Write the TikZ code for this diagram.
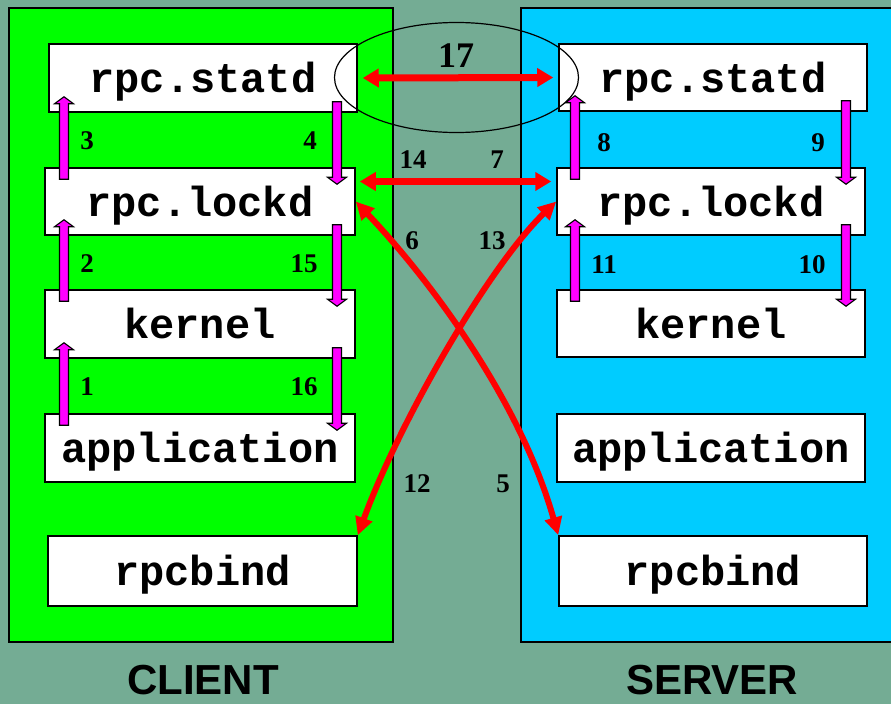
\documentclass[tikz,border=0pt]{standalone}
\usepackage{fontspec}
\usepackage{graphicx}
\usetikzlibrary{arrows.meta,calc}
\newfontfamily\boxfont{Liberation Mono}
\newfontfamily\numfont{Liberation Serif}
\newfontfamily\labfont{Liberation Sans}
\definecolor{bgc}{HTML}{74AC94}
\definecolor{cligreen}{HTML}{00FF00}
\definecolor{sercyan}{HTML}{00CCFF}
\definecolor{magc}{HTML}{FF00FF}
\definecolor{redc}{HTML}{FF0000}
\tikzset{
  panel/.style={draw=black,line width=1.5pt},
  procbox/.style={draw=black,fill=white,line width=1.5pt,inner sep=0pt,
    minimum width=309pt,minimum height=68pt,text depth=1pt,
    font=\boxfont\bfseries\fontsize{42}{42}\selectfont},
  num/.style={font=\numfont\bfseries\fontsize{27}{27}\selectfont,inner sep=0pt},
  bignum/.style={font=\numfont\bfseries\fontsize{36}{36}\selectfont,inner sep=0pt},
  sidelab/.style={font=\labfont\bfseries\fontsize{42}{42}\selectfont,inner sep=0pt,anchor=base},
  magarr/.style={draw=black,fill=magc,line width=1.1pt,line join=miter},
  redarr/.style={draw=redc,line width=7pt,{Triangle[length=16pt,width=18pt]}-{Triangle[length=16pt,width=18pt]}},
  redcurve/.style={draw=redc,line width=6pt,{Triangle[length=18pt,width=17pt]}-{Triangle[length=18pt,width=17pt]}},
  ring/.style={draw=black,line width=1.2pt}
}
\newcommand\magup[3]{%
  \draw[magarr] let \p1=(#2.north), \p2=(#3.south) in
   (#1pt-4.5pt,\y1-12pt) -- (#1pt-4.5pt,\y2+9pt) -- (#1pt-9.5pt,\y2+9pt) --
   (#1pt,\y2+16pt) -- (#1pt+9.5pt,\y2+9pt) -- (#1pt+4.5pt,\y2+9pt) --
   (#1pt+4.5pt,\y1-12pt) -- cycle;}
\newcommand\magdown[3]{%
  \draw[magarr] let \p1=(#2.south), \p2=(#3.north) in
   (#1pt-4.5pt,\y1+11pt) -- (#1pt-4.5pt,\y2-10pt) -- (#1pt-9.5pt,\y2-10pt) --
   (#1pt,\y2-17pt) -- (#1pt+9.5pt,\y2-10pt) -- (#1pt+4.5pt,\y2-10pt) --
   (#1pt+4.5pt,\y1+11pt) -- cycle;}
\begin{document}
\begin{tikzpicture}[x=1pt,y=-1pt]
\useasboundingbox (0,0) rectangle (891,704);
\fill[bgc] (0,0) rectangle (891,704);
% panels
\draw[panel,fill=cligreen] (9,8) rectangle (393,642);
\draw[panel,fill=sercyan] (521,8) rectangle (897,642);
% client boxes
\node[procbox,minimum width=308pt] (cS) at (203,78) {rpc.statd};
\node[procbox,minimum width=310pt,minimum height=67pt] (cL) at (200,201.5) {rpc.lockd};
\node[procbox,minimum width=310pt] (cK) at (200,324) {kernel};
\node[procbox,minimum width=310pt] (cA) at (200,448) {application};
\node[procbox,minimum height=70pt] (cB) at (202.5,571) {rpcbind};
% server boxes
\node[procbox,minimum width=308pt,minimum height=67pt] (sS) at (713,77.5) {rpc.statd};
\node[procbox,minimum width=308pt,minimum height=67pt] (sL) at (711,201.5) {rpc.lockd};
\node[procbox,minimum width=308pt,minimum height=67pt] (sK) at (711,323.5) {kernel};
\node[procbox,minimum width=308pt] (sA) at (711,448) {application};
\node[procbox,minimum width=308pt,minimum height=70pt] (sB) at (713,571) {rpcbind};
% magenta arrows client
\magup{64}{cL}{cS}
\magdown{337}{cS}{cL}
\magup{64}{cK}{cL}
\magdown{337}{cL}{cK}
\magup{64}{cA}{cK}
\magdown{337}{cK}{cA}
% magenta arrows server
\magup{575}{sL}{sS}
\magdown{846}{sS}{sL}
\magup{575}{sK}{sL}
\magdown{846}{sL}{sK}
% red arrows
\draw[redarr,shorten <=5pt,shorten >=5pt] (cS.east) -- (sS.west);
\draw[redarr,shorten <=4pt,shorten >=5pt] ([yshift=20pt]cL.east) -- ([yshift=20pt]sL.west);
\draw[redcurve] (cL.east) .. controls (430,280) and (520,400) .. (sB.north west);
\draw[redcurve] (sL.west) .. controls (490,265) and (400,420) .. (cB.north east);
% ellipse
\draw[ring] (456.5,77.5) ellipse [x radius=122, y radius=55];
% numbers
\node[bignum] (n17) at (456,56) {17};
\node[num] (n3) at (87,141) {3};
\node[num] (n4) at (310,141) {4};
\node[num] (n2) at (87,264) {2};
\node[num] (n15) at (304,264) {15};
\node[num] (n1) at (87,387) {1};
\node[num] (n16) at (304,387) {16};
\node[num] (n14) at (413,160) {14};
\node[num] (n7) at (497,160) {7};
\node[num] (n6) at (412,241) {6};
\node[num] (n13) at (492,241) {13};
\node[num] (n12) at (417,484) {12};
\node[num] (n5) at (503,484) {5};
\node[num] (n8) at (604,143) {8};
\node[num] (n9) at (818,143) {9};
\node[num] (n11) at (604,265) {11};
\node[num] (n10) at (812,265) {10};
% side labels
\node[sidelab] (lc) at (203,694) {CLIENT};
\node[sidelab] (ls) at (712,694) {SERVER};
\end{tikzpicture}
\end{document}
